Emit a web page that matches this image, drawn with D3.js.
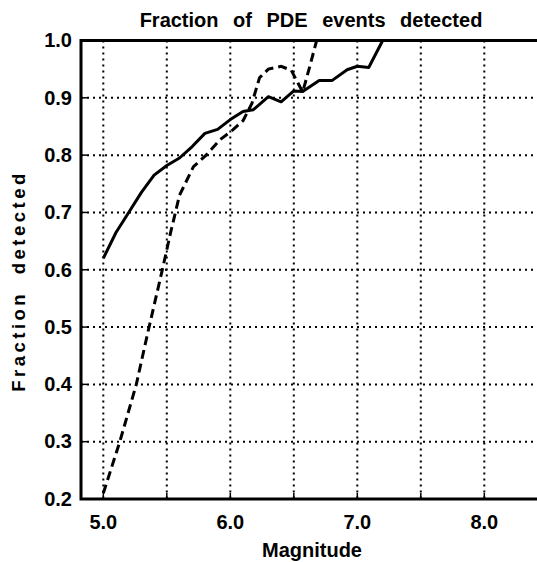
<!DOCTYPE html>
<html><head><meta charset="utf-8">
<script src="https://cdn.jsdelivr.net/npm/d3@7"></script>
<style>body{margin:0;background:#fff}svg{display:block}text{font-family:"Liberation Sans",Arial,sans-serif;font-weight:bold;fill:#000}</style>
</head><body><svg id="c" width="537" height="562"></svg>
<script>
const title = "Fraction of PDE events detected";
const xLabel = "Magnitude";
const yLabel = "Fraction detected";
const xTickLabels = [5.0, 6.0, 7.0, 8.0];
const xGrid = [5.0, 5.5, 6.0, 6.5, 7.0, 7.5, 8.0];
const yTicks = [0.2, 0.3, 0.4, 0.5, 0.6, 0.7, 0.8, 0.9, 1.0];
// solid curve
const solidMag = [5.0,5.1,5.2,5.3,5.4,5.5,5.6,5.7,5.8,5.9,6.0,6.1,6.18,6.3,6.4,6.5,6.57,6.7,6.8,6.92,7.0,7.09,7.2,8.45];
const solidFrac = [0.62,0.665,0.70,0.735,0.765,0.782,0.795,0.815,0.838,0.845,0.862,0.876,0.879,0.902,0.893,0.912,0.911,0.930,0.930,0.949,0.955,0.953,1.0,1.0];
// dashed curve
const dashMag = [5.0,5.13,5.26,5.35,5.47,5.53,5.60,5.71,5.81,5.92,6.02,6.10,6.17,6.23,6.30,6.40,6.48,6.57,6.62,6.68];
const dashFrac = [0.21,0.30,0.40,0.49,0.605,0.665,0.73,0.78,0.80,0.827,0.844,0.86,0.89,0.935,0.95,0.955,0.948,0.91,0.95,1.0];

const svg = d3.select("#c");
const L = 81, R = 537, T = 40.5, B = 499;
const x = d3.scaleLinear().domain([5.0 - 22.3/127, 5.0 + 433.7/127]).range([L, R]);
const y = d3.scaleLinear().domain([0.2, 1.0]).range([B, T]);

// grid
svg.append("g").selectAll("line").data(xGrid).join("line")
  .attr("x1", d => x(d)).attr("x2", d => x(d)).attr("y1", T).attr("y2", B)
  .attr("stroke", "#000").attr("stroke-width", 2).attr("stroke-dasharray", "2,4");
svg.append("g").selectAll("line").data(yTicks.filter(d => d > 0.2 && d < 1.0)).join("line")
  .attr("x1", L).attr("x2", R).attr("y1", d => y(d)).attr("y2", d => y(d))
  .attr("stroke", "#000").attr("stroke-width", 2).attr("stroke-dasharray", "2,4");
// small ticks
svg.append("g").selectAll("line").data(xGrid).join("line")
  .attr("x1", d => x(d)).attr("x2", d => x(d)).attr("y1", B).attr("y2", B - 6)
  .attr("stroke", "#000").attr("stroke-width", 1.5);
svg.append("g").selectAll("line").data(yTicks).join("line")
  .attr("x1", L).attr("x2", L + 6).attr("y1", d => y(d)).attr("y2", d => y(d))
  .attr("stroke", "#000").attr("stroke-width", 1.5);

// frame
svg.append("path").attr("d", `M${R},${T}H${L}V${B}H${R}`)
  .attr("fill", "none").attr("stroke", "#000").attr("stroke-width", 3);

const line = d3.line().x(d => x(d[0])).y(d => y(d[1]));
svg.append("path").datum(d3.zip(solidMag, solidFrac)).attr("d", line)
  .attr("fill", "none").attr("stroke", "#000").attr("stroke-width", 3).attr("stroke-linejoin", "round");
svg.append("path").datum(d3.zip(dashMag, dashFrac)).attr("d", line)
  .attr("fill", "none").attr("stroke", "#000").attr("stroke-width", 3).attr("stroke-dasharray", "9,5");

// labels
svg.append("g").selectAll("text").data(yTicks).join("text")
  .attr("x", 72).attr("y", d => y(d) + 6.8).attr("text-anchor", "end")
  .attr("font-size", 20).text(d => d.toFixed(1));
svg.append("g").selectAll("text").data(xTickLabels).join("text")
  .attr("x", d => x(d)).attr("y", 529).attr("text-anchor", "middle")
  .attr("font-size", 20).text(d => d.toFixed(1));
svg.append("text").attr("x", 311).attr("y", 26.5).attr("text-anchor", "middle")
  .attr("font-size", 20).attr("word-spacing", 9).text(title);
svg.append("text").attr("x", 312).attr("y", 556.5).attr("text-anchor", "middle")
  .attr("font-size", 20).text(xLabel);
svg.append("text").attr("transform", "translate(25,281) rotate(-90)").attr("text-anchor", "middle")
  .attr("font-size", 18.5).attr("letter-spacing", 3.5).attr("word-spacing", 8).text(yLabel);
</script></body></html>
